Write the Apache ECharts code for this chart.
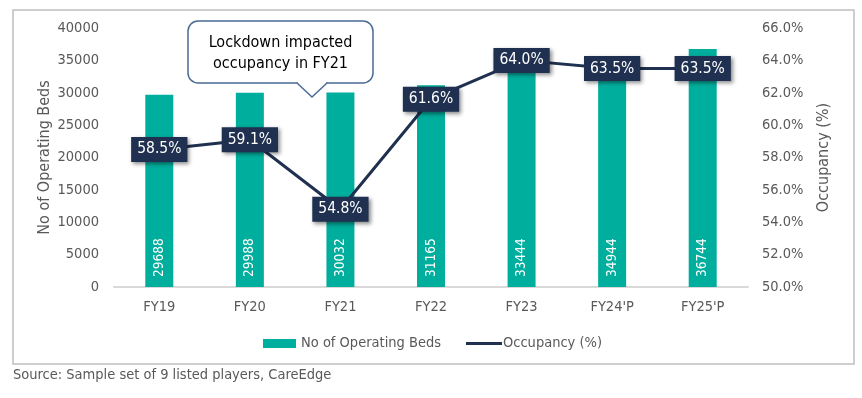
<!DOCTYPE html>
<html>
<head>
<meta charset="utf-8">
<script src="https://cdn.jsdelivr.net/npm/echarts@6/dist/echarts.min.js"></script>
<style>
  html, body { margin: 0; padding: 0; background: #fff; }
  #chart { width: 862px; height: 398px; }
</style>
</head>
<body>
<div id="chart"></div>
<script>
;(function () {

    'use strict';

    var FONT = "'DejaVu Sans Condensed', 'DejaVu Sans', sans-serif";

    var years = ['FY19', 'FY20', 'FY21', 'FY22', 'FY23', "FY24'P", "FY25'P"];
    var beds = [29688, 29988, 30032, 31165, 33444, 34944, 36744];
    var occupancy = [58.5, 59.1, 54.8, 61.6, 64.0, 63.5, 63.5];

    var barColor = '#00AE9D';
    var lineColor = '#1F3050';
    var textGrey = '#595959';
    var bubbleStroke = '#4A6B94';

    var myChart = echarts.init(document.getElementById('chart'));

    var option = {
        animation: false,
        textStyle: { fontFamily: FONT },
        grid: { left: 114, right: 114, top: 28, bottom: 111, containLabel: false },
        legend: [
            {
                data: ['No of Operating Beds'],
                left: 258, top: 331,
                itemWidth: 33, itemHeight: 9, itemGap: 0,
                icon: 'rect',
                textStyle: { color: textGrey, fontSize: 14.5, fontFamily: FONT }
            },
            {
                data: ['Occupancy (%)'],
                left: 461, top: 331,
                itemWidth: 36, itemHeight: 3, itemGap: 0,
                icon: 'rect',
                textStyle: { color: textGrey, fontSize: 14.5, fontFamily: FONT, padding: [0, 0, 0, -4] }
            }
        ],
        xAxis: {
            type: 'category',
            data: years,
            axisTick: { show: false },
            axisLine: { lineStyle: { color: '#D9D9D9', width: 2 } },
            axisLabel: { color: textGrey, fontSize: 14.5, margin: 13, fontFamily: FONT }
        },
        yAxis: [
            {
                type: 'value',
                min: 0, max: 40000, interval: 5000,
                name: 'No of Operating Beds',
                nameLocation: 'middle',
                nameRotate: 90,
                nameGap: 61,
                nameMoveOverlap: false,
                nameTextStyle: { color: textGrey, fontSize: 16, fontFamily: FONT },
                splitLine: { show: false },
                axisLine: { show: false },
                axisTick: { show: false },
                axisLabel: {
                    color: textGrey, fontSize: 14.5, margin: 15, fontFamily: FONT,
                    formatter: function (v) { return String(v); }
                }
            },
            {
                type: 'value',
                min: 50, max: 66, interval: 2,
                name: 'Occupancy (%)',
                nameLocation: 'middle',
                nameRotate: 90,
                nameGap: 68,
                nameTextStyle: { color: textGrey, fontSize: 16, fontFamily: FONT },
                splitLine: { show: false },
                axisLine: { show: false },
                axisTick: { show: false },
                axisLabel: {
                    color: textGrey, fontSize: 14.5, margin: 14, fontFamily: FONT,
                    formatter: function (v) { return v.toFixed(1) + '%'; }
                }
            }
        ],
        series: [
            {
                name: 'No of Operating Beds',
                type: 'bar',
                data: beds,
                barWidth: 28,
                itemStyle: { color: barColor },
                label: {
                    show: true,
                    position: 'insideBottom',
                    rotate: 90,
                    align: 'left',
                    verticalAlign: 'middle',
                    distance: 10,
                    color: '#fff',
                    fontSize: 13.5,
                    fontFamily: FONT
                }
            },
            {
                name: 'Occupancy (%)',
                type: 'line',
                yAxisIndex: 1,
                data: occupancy,
                symbol: 'circle',
                symbolSize: 1,
                lineStyle: { color: lineColor, width: 3 },
                itemStyle: { color: lineColor },
                z: 5,
                label: {
                    show: true,
                    position: 'inside',
                    formatter: function (p) { return p.value.toFixed(1) + '%'; },
                    color: '#fff',
                    fontSize: 15.5,
                    fontFamily: FONT,
                    backgroundColor: lineColor,
                    padding: [5, 6, 4, 6],
                    shadowColor: 'rgba(0,0,0,0.45)',
                    shadowBlur: 4,
                    shadowOffsetX: 2,
                    shadowOffsetY: 2
                }
            }
        ],
        graphic: [
            {
                type: 'rect',
                shape: { x: 13, y: 10, width: 841, height: 354 },
                style: { fill: 'none', stroke: '#BFBFBF', lineWidth: 1.5 },
                silent: true
            },
            // callout bubble
            {
                type: 'rect',
                shape: { x: 188, y: 21, width: 185, height: 62, r: 10 },
                style: { fill: '#fff', stroke: bubbleStroke, lineWidth: 1.5 },
                z: 10
            },
            {
                type: 'line',
                shape: { x1: 298, y1: 83, x2: 326, y2: 83 },
                style: { stroke: '#fff', lineWidth: 3 },
                z: 11
            },
            {
                type: 'polygon',
                shape: { points: [[298, 82], [326, 82], [312, 96]] },
                style: { fill: '#fff' },
                z: 11
            },
            {
                type: 'polyline',
                shape: { points: [[297, 83], [312, 97], [327, 83]] },
                style: { stroke: bubbleStroke, lineWidth: 1.5, fill: null },
                z: 12
            },
            {
                type: 'text',
                x: 280.5, y: 53,
                style: {
                    text: 'Lockdown impacted\noccupancy in FY21',
                    fill: '#000',
                    font: '16px ' + FONT,
                    lineHeight: 21,
                    align: 'center',
                    verticalAlign: 'middle'
                },
                z: 13
            },
            {
                type: 'text',
                x: 13, y: 368,
                style: {
                    text: 'Source: Sample set of 9 listed players, CareEdge',
                    fill: textGrey,
                    font: '14.5px ' + FONT
                }
            }
        ]
    };

    myChart.setOption(option);

}());
</script>
</body>
</html>
